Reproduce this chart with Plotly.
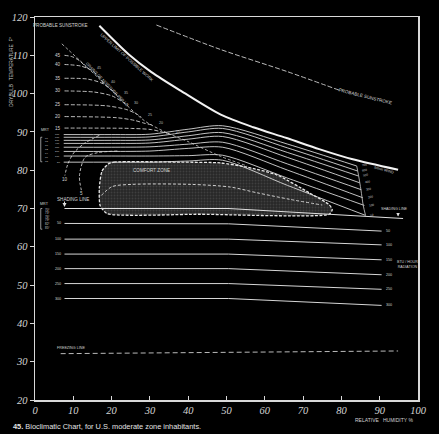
import plotly.graph_objects as go

# ---------------- data ----------------
X_TICKS = [0, 10, 20, 30, 40, 50, 60, 70, 80, 90, 100]
Y_TICKS = [20, 30, 40, 50, 60, 70, 80, 90, 100, 110, 120]

# upper dashed "probable sunstroke" curve
SUN_X = [31.7, 48.5, 65.7, 79.4]
SUN_Y = [117.9, 111.5, 105.8, 100.9]

# thick solid upper limit line
LIM_X = [16.8, 24.5, 30.4, 38.1, 48.5, 57.0, 65.7, 74.2, 82.7, 94.8]
LIM_Y = [117.7, 110.2, 105.6, 100.7, 94.5, 91.2, 88.4, 85.5, 82.9, 80.1]

# diagonal dashed line where moisture curves end
DIAG_X = [7.0, 13.7, 20.1, 28.6, 34.8, 39.9, 48.5, 55.4]
DIAG_Y = [113.0, 106.8, 100.7, 92.9, 89.6, 87.5, 83.6, 81.1]

# moisture (grains) curves
MOIST_LABELS = ["45", "40", "35", "30", "25", "20", "15"]
MOIST_X = [
    [7.7, 9.8, 11.6, 13.1, 14.4],
    [7.7, 11.9, 14.9, 17.0, 18.0],
    [7.7, 13.7, 17.5, 20.1, 21.4],
    [7.7, 15.5, 20.1, 22.9, 24.2],
    [7.7, 18.8, 24.0, 26.5, 27.8],
    [7.7, 21.4, 26.0, 28.8, 30.7],
    [7.7, 25.3, 30.4, 33.5, 35.1],
]
MOIST_Y = [
    [110.0, 109.6, 108.6, 107.2, 106.1],
    [107.6, 107.2, 106.0, 103.9, 102.5],
    [104.0, 103.8, 102.7, 100.9, 99.6],
    [100.7, 100.4, 99.4, 97.8, 96.9],
    [97.1, 96.8, 95.8, 94.7, 93.8],
    [94.0, 93.7, 93.0, 92.2, 91.8],
    [91.0, 90.9, 90.6, 89.9, 89.5],
]
ARC_LABELS = ["10", "5"]
ARC_X = [[16.8, 12.9, 10.1, 8.5, 7.8], [21.5, 16.5, 13.1, 11.6, 12.1]]
ARC_Y = [[89.1, 87.0, 84.5, 81.4, 78.6], [85.0, 84.6, 83.4, 78.5, 74.8]]

# wind lines (ft/min)
WIND_LABELS = ["700", "600", "500", "400", "300", "200", "100", "50"]
WIND_XS = [7.5, 20.0, 30.0, 40.0, 49.0, 66.0]
WIND_END_X = [84.0, 84.2, 84.4, 84.8, 85.2, 85.6, 86.0, 86.3]
WIND_Y = [
    [89.3, 89.3, 89.4, 90.7, 91.6, 86.8, 81.1],
    [88.6, 88.6, 88.7, 90.0, 90.9, 85.8, 79.8],
    [87.8, 87.8, 87.9, 89.0, 89.8, 84.6, 78.5],
    [87.0, 87.0, 87.1, 88.1, 88.8, 83.3, 76.7],
    [86.0, 86.0, 86.1, 86.8, 87.3, 81.6, 74.9],
    [84.9, 84.9, 85.0, 85.7, 86.0, 80.0, 72.8],
    [83.7, 83.7, 83.7, 83.8, 83.9, 77.9, 70.8],
    [82.1, 82.1, 82.1, 82.4, 82.6, 76.0, 68.2],
]
WIND_END_CURVE_X = [84.0, 84.5, 85.1, 85.7, 86.3]
WIND_END_CURVE_Y = [81.1, 78.5, 74.9, 70.8, 68.2]

# comfort zone outline
CZ_X = [19.1, 20.6, 38.9, 48.5, 55.4, 63.1, 71.6, 76.8, 77.6, 76.8, 43.3, 18.8, 17.0, 16.8, 17.5, 19.1]
CZ_Y = [81.6, 82.1, 82.1, 81.9, 80.8, 78.8, 74.1, 71.0, 69.7, 68.5, 68.5, 68.7, 70.8, 75.4, 79.8, 81.6]
CZ_IN_X = [17.3, 20.1, 25.3, 40.7, 51.0, 58.0, 66.5, 75.0]
CZ_IN_Y = [73.4, 75.7, 76.3, 76.3, 75.6, 74.1, 72.4, 70.9]

# shading line
SHADE_X = [7.7, 50.5, 96.1]
SHADE_Y = [70.0, 70.0, 67.4]

# radiation lines (BTU/hour)
RAD_LABELS = ["50", "100", "150", "200", "250", "300"]
RAD_X = [7.7, 50.5, 90.5]
RAD_Y = [
    [66.1, 66.0, 64.1],
    [62.0, 62.0, 60.5],
    [58.1, 58.1, 56.6],
    [54.3, 54.3, 52.7],
    [50.4, 50.4, 48.9],
    [46.5, 46.5, 44.7],
]

# freezing line
FREEZE_X = [6.7, 94.8]
FREEZE_Y = [32.1, 32.8]

# bracket labels on the left
MRT_TOP = ["66°", "68°", "70°", "72°", "74°", "76°", "78°"]
MRT_TOP_Y = [88.3, 87.5, 86.5, 85.5, 84.4, 83.4, 82.4]
MRT_LOW = ["70°", "73°", "76°", "79°", "82°", "85°"]
MRT_LOW_Y = [69.7, 68.7, 67.9, 66.9, 65.9, 64.8]

# ---------------- figure ----------------
LC = "#dedede"
TXT = "#d2d2d2"
SMALL = dict(family="Liberation Sans", size=4.6, color=TXT)
TINY = dict(family="Liberation Sans", size=3.7, color=TXT)
MICRO = dict(family="Liberation Sans", size=3.0, color=TXT)
NANO = dict(family="Liberation Sans", size=2.5, color=TXT)

fig = go.Figure()


def add_line(x, y, color=LC, width=1.0, dash="solid", shape="spline"):
    fig.add_trace(go.Scatter(x=x, y=y, mode="lines", hoverinfo="skip",
                             line=dict(color=color, width=width, dash=dash,
                                       shape=shape, smoothing=0.8)))


# comfort zone
fig.add_trace(go.Scatter(
    x=CZ_X, y=CZ_Y, mode="lines", fill="toself", hoverinfo="skip",
    fillcolor="#2c2c2c",
    fillpattern=dict(shape=".", fgcolor="#575757", bgcolor="#262626", size=3, solidity=0.35),
    line=dict(color="#e8e8e8", width=1.3, dash="3px,1.5px", shape="spline", smoothing=0.6)))
add_line(CZ_IN_X, CZ_IN_Y, color="#cfcfcf", width=1.0, dash="3px,2px")

# sunstroke + limit line
add_line(SUN_X, SUN_Y, color="#cfcfcf", width=0.9, dash="5px,2px")
add_line(LIM_X, LIM_Y, color="#f2f2f2", width=2.0)

# diagonal + moisture curves
add_line(DIAG_X, DIAG_Y, color="#cfcfcf", width=0.8, dash="3px,2px")
for mx, my in zip(MOIST_X, MOIST_Y):
    add_line(mx, my, color="#cfcfcf", width=0.9, dash="4px,2px")
for ax_, ay_ in zip(ARC_X, ARC_Y):
    add_line(ax_, ay_, color="#cfcfcf", width=0.9, dash="3px,2px")

# wind lines
for wy, ex in zip(WIND_Y, WIND_END_X):
    add_line(WIND_XS + [ex], wy, color="#d8d8d8", width=0.9)
add_line(WIND_END_CURVE_X, WIND_END_CURVE_Y, color="#cfcfcf", width=0.8)

# shading + radiation + freezing
add_line(SHADE_X, SHADE_Y, color="#e0e0e0", width=1.1, shape="linear")
for ry in RAD_Y:
    add_line(RAD_X, ry, color="#d6d6d6", width=1.0, shape="linear")
add_line(FREEZE_X, FREEZE_Y, color="#cfcfcf", width=0.9, dash="5px,3px", shape="linear")

ann = []


def txt(x, y, t, xanchor="center", angle=0, font=None, xref="x", yref="y"):
    ann.append(dict(x=x, y=y, text=t, showarrow=False, xanchor=xanchor, yanchor="middle",
                    textangle=angle, font=font or SMALL, xref=xref, yref=yref))


for lab, mx, my in zip(MOIST_LABELS, MOIST_X, MOIST_Y):
    txt(mx[0] - 0.4, my[0], lab, xanchor="right")
    txt(mx[-1] + 1.2, my[-1] + 0.6, lab, xanchor="left",
        font=dict(family="Liberation Sans", size=3.6, color="#bdbdbd"))
for lab, ax_, ay_ in zip(ARC_LABELS, ARC_X, ARC_Y):
    txt(ax_[-1], ay_[-1] - 0.9, lab)
for lab, wy, ex in zip(WIND_LABELS, WIND_Y, WIND_END_X):
    txt(7.0, wy[0], lab, xanchor="right", font=NANO)
    txt(ex + 0.6, wy[-1] + 0.2, lab, xanchor="left", angle=-10, font=MICRO)
for lab, ry in zip(RAD_LABELS, RAD_Y):
    txt(7.3, ry[0], lab, xanchor="right", font=TINY)
    txt(RAD_X[-1] + 0.6, ry[-1], lab, xanchor="left", font=TINY)

txt(1.0, 90.5, "MRT", xanchor="left", font=TINY)
for lab, yy in zip(MRT_TOP, MRT_TOP_Y):
    txt(2.1, yy, lab, xanchor="left", font=NANO)
txt(0.8, 71.2, "MRT", xanchor="left", font=TINY)
for lab, yy in zip(MRT_LOW, MRT_LOW_Y):
    txt(2.1, yy, lab, xanchor="left", font=MICRO)

txt(6.7, 117.9, "PROBABLE SUNSTROKE")
txt(86.3, 99.3, "PROBABLE SUNSTROKE", angle=14)
txt(24.0, 109.4, "UPPER LIMIT OF POSSIBLE WORK", angle=42,
    font=dict(family="Liberation Sans", size=4.2, color="#c8c8c8"))
txt(18.9, 102.3, "GRAINS OF MOISTURE PER LB", angle=46,
    font=dict(family="Liberation Sans", size=4.0, color="#c0c0c0"))
txt(30.4, 79.8, "COMFORT ZONE")
txt(9.8, 72.4, "SHADING LINE")
txt(93.8, 69.8, "SHADING LINE", font=TINY)
txt(91.0, 80.0, "ft/min WIND", angle=15, font=TINY)
txt(93.9, 55.3, "BTU / HOUR<br>RADIATION", xanchor="left",
    font=dict(family="Liberation Sans", size=3.6, color=TXT))
txt(5.2, 33.6, "FREEZING LINE", xanchor="left", font=TINY)

# arrows for shading line
ann.append(dict(x=7.7, y=70.4, ax=0, ay=-7, xref="x", yref="y", text="", showarrow=True,
                arrowhead=2, arrowsize=0.8, arrowwidth=1, arrowcolor="#e0e0e0"))
ann.append(dict(x=94.8, y=67.9, ax=0, ay=-5, xref="x", yref="y", text="", showarrow=True,
                arrowhead=2, arrowsize=0.7, arrowwidth=1, arrowcolor="#e0e0e0"))

# outside texts (paper)
txt(-0.062, 0.858, "DRYBULB   TEMPERATURE  F°", angle=-90, xref="paper", yref="paper",
    font=dict(family="Liberation Sans", size=4.8, color=TXT))
txt(0.912, -0.051, "RELATIVE   HUMIDITY %", xref="paper", yref="paper",
    font=dict(family="Liberation Sans", size=5.0, color=TXT))
txt(-0.062, -0.0696, "<b>45.</b> Bioclimatic Chart, for U.S. moderate zone inhabitants.",
    xanchor="left", xref="paper", yref="paper",
    font=dict(family="Liberation Sans", size=7.4, color="#e4e4e4"))

# bracket shapes
shapes = [
    dict(type="path", xref="x", yref="y", path="M 1.9,88.6 L 1.5,88.6 L 1.5,82.2 L 1.9,82.2",
         line=dict(color=TXT, width=0.7)),
    dict(type="path", xref="x", yref="y", path="M 1.9,70.0 L 1.5,70.0 L 1.5,64.6 L 1.9,64.6",
         line=dict(color=TXT, width=0.7)),
]

axis_common = dict(showgrid=False, zeroline=False, showline=True, mirror=True,
                   linecolor="#d9d9d9", linewidth=1.5, ticklen=4, tickcolor="#d9d9d9",
                   tickfont=dict(family="Liberation Serif", size=10.5, color="#d4d4d4", style="italic"))

fig.update_layout(
    width=439, height=434,
    margin=dict(l=32, r=19, t=12, b=34),
    paper_bgcolor="black", plot_bgcolor="black",
    showlegend=False,
    xaxis=dict(range=[0, 100], tickvals=X_TICKS, ticks="inside", **axis_common),
    yaxis=dict(range=[20, 120], tickvals=Y_TICKS, ticks="outside", **axis_common),
    annotations=ann, shapes=shapes,
)

fig.write_html(
    "out.html",
    config={"displayModeBar": False, "staticPlot": True},
    post_script="document.body.style.margin='0';document.body.style.padding='0';"
                "document.body.style.background='black';document.body.style.overflow='hidden';",
)
